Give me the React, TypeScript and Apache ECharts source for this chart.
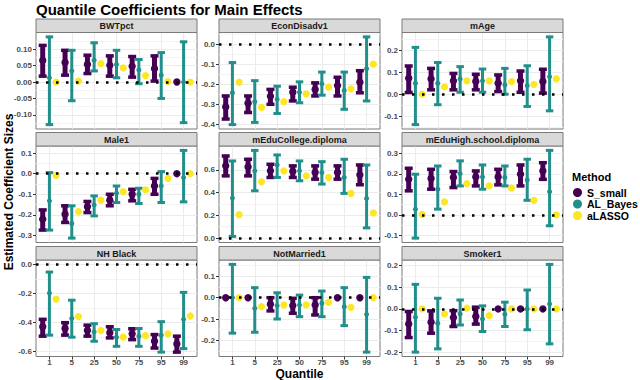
import React, { useEffect, useRef } from 'react';
import * as echarts from 'echarts';

const quantiles = ['1', '5', '25', '50', '75', '95', '99'];
const panelNames = [
  'BWTpct', 'EconDisadv1', 'mAge',
  'Male1', 'mEduCollege.diploma', 'mEduHigh.school.diploma',
  'NH Black', 'NotMarried1', 'Smoker1',
];
const yTickValues: number[][] = [
  [-0.1, -0.05, 0.0, 0.05, 0.1],
  [-0.4, -0.3, -0.2, -0.1, 0.0],
  [-0.1, 0.0, 0.1, 0.2],
  [-0.3, -0.2, -0.1, 0.0, 0.1],
  [0.0, 0.2, 0.4, 0.6],
  [-0.1, 0.0, 0.1, 0.2, 0.3],
  [-0.6, -0.4, -0.2, 0.0],
  [-0.2, -0.1, 0.0, 0.1],
  [-0.2, -0.1, 0.0, 0.1, 0.2],
];
const yTickDecimals = [2, 1, 1, 1, 1, 1, 1, 1, 1];
const methods = ['S_small', 'AL_Bayes', 'aLASSO'];
const methodColors = ['#440154', '#21908C', '#FDE725'];

// S_small
const sSmallEst: number[][] = [
  [0.066, 0.060, 0.054, 0.051, 0.048, 0.041, 0.0],
  [-0.314, -0.296, -0.261, -0.240, -0.226, -0.207, -0.190],
  [0.073, 0.070, 0.061, 0.058, 0.050, 0.061, 0.058],
  [-0.221, -0.197, -0.161, -0.129, -0.100, -0.060, 0.0],
  [0.635, 0.626, 0.591, 0.585, 0.576, 0.576, 0.556],
  [0.173, 0.177, 0.182, 0.185, 0.185, 0.198, 0.214],
  [-0.430, -0.442, -0.456, -0.472, -0.479, -0.530, -0.549],
  [0.0, 0.0, -0.031, -0.037, -0.034, 0.0, 0.0],
  [-0.069, -0.061, -0.040, -0.035, 0.0, 0.0, 0.0],
];
const sSmallLow: (number | null)[][] = [
  [0.018, 0.021, 0.026, 0.018, 0.015, 0.003, null],
  [-0.375, -0.342, -0.301, -0.284, -0.259, -0.259, -0.243],
  [0.008, 0.020, 0.020, 0.020, 0.012, 0.009, 0.005],
  [-0.274, -0.237, -0.189, -0.156, -0.132, -0.100, null],
  [0.547, 0.547, 0.533, 0.533, 0.518, 0.518, 0.469],
  [0.117, 0.125, 0.133, 0.141, 0.146, 0.141, 0.173],
  [-0.495, -0.488, -0.495, -0.507, -0.519, -0.577, -0.605],
  [null, null, -0.062, -0.073, -0.081, null, null],
  [-0.132, -0.112, -0.081, -0.070, null, null, null],
];
const sSmallHigh: (number | null)[][] = [
  [0.112, 0.097, 0.082, 0.080, 0.078, 0.080, null],
  [-0.259, -0.259, -0.226, -0.215, -0.193, -0.165, -0.132],
  [0.129, 0.118, 0.095, 0.091, 0.088, 0.106, 0.114],
  [-0.176, -0.156, -0.135, -0.100, -0.076, -0.023, null],
  [0.722, 0.693, 0.649, 0.635, 0.635, 0.635, 0.643],
  [0.227, 0.222, 0.211, 0.214, 0.222, 0.243, 0.254],
  [-0.379, -0.402, -0.419, -0.430, -0.444, -0.484, -0.495],
  [null, null, 0.0, -0.003, 0.0, null, null],
  [-0.012, -0.009, -0.008, 0.008, null, null, null],
];

// AL_Bayes
const alBayesEst: number[][] = [
  [0.013, 0.034, 0.067, 0.054, 0.037, 0.021, 0.0],
  [-0.243, -0.288, -0.276, -0.240, -0.198, -0.231, -0.122],
  [0.050, 0.050, 0.070, 0.061, 0.042, 0.039, 0.080],
  [-0.132, -0.242, -0.152, -0.095, -0.100, -0.060, -0.019],
  [0.352, 0.591, 0.643, 0.591, 0.576, 0.533, 0.349],
  [0.028, 0.125, 0.201, 0.185, 0.182, 0.170, 0.113],
  [-0.198, -0.372, -0.465, -0.502, -0.495, -0.488, -0.379],
  [0.0, -0.050, -0.037, -0.034, -0.026, -0.042, -0.078],
  [-0.038, -0.066, -0.023, -0.046, -0.025, 0.0, 0.023],
];
const alBayesLow: number[][] = [
  [-0.130, -0.057, 0.034, 0.013, -0.005, -0.050, -0.124],
  [-0.403, -0.392, -0.347, -0.293, -0.255, -0.326, -0.284],
  [-0.139, -0.048, 0.009, 0.009, 0.0, -0.056, -0.076],
  [-0.274, -0.313, -0.205, -0.140, -0.145, -0.140, -0.137],
  [0.015, 0.416, 0.533, 0.504, 0.475, 0.393, 0.090],
  [-0.113, 0.028, 0.141, 0.125, 0.141, 0.071, -0.053],
  [-0.488, -0.502, -0.530, -0.565, -0.565, -0.605, -0.581],
  [-0.166, -0.162, -0.100, -0.089, -0.089, -0.131, -0.255],
  [-0.199, -0.184, -0.074, -0.104, -0.081, -0.096, -0.161],
];
const alBayesHigh: number[][] = [
  [0.138, 0.097, 0.120, 0.097, 0.069, 0.090, 0.123],
  [-0.091, -0.182, -0.210, -0.188, -0.139, -0.139, 0.038],
  [0.214, 0.145, 0.126, 0.115, 0.118, 0.130, 0.262],
  [0.005, -0.156, -0.108, -0.060, -0.071, 0.010, 0.113],
  [0.678, 0.771, 0.731, 0.678, 0.672, 0.693, 0.643],
  [0.198, 0.238, 0.263, 0.243, 0.238, 0.271, 0.314],
  [-0.053, -0.247, -0.409, -0.449, -0.442, -0.395, -0.193],
  [0.156, 0.047, 0.023, 0.012, 0.031, 0.047, 0.095],
  [0.113, 0.049, 0.041, 0.014, 0.031, 0.087, 0.205],
];

// aLASSO
const aLassoEst: number[][] = [
  [0.0, 0.003, 0.056, 0.043, 0.020, 0.001, 0.0],
  [-0.190, -0.317, -0.288, -0.248, -0.215, -0.223, -0.099],
  [0.0, 0.033, 0.061, 0.061, 0.058, 0.045, 0.070],
  [-0.008, -0.184, -0.129, -0.087, -0.079, -0.023, 0.0],
  [0.207, 0.495, 0.591, 0.547, 0.533, 0.393, 0.221],
  [0.003, 0.063, 0.152, 0.141, 0.130, 0.071, 0.0],
  [-0.240, -0.360, -0.456, -0.502, -0.491, -0.479, -0.356],
  [0.0, -0.042, -0.034, -0.034, -0.022, -0.045, 0.0],
  [0.0, -0.023, 0.003, -0.031, 0.0, 0.0, 0.0],
];

const FONT = '"Liberation Sans", Arial, Helvetica, sans-serif';
const COL_LEFT = [36, 219, 402];
const ROW_TOP = [32.5, 146, 260];
const PW = 161;
const PH = 96.5;
const STRIP_H = 13.5;
const DODGE = 0.3;

function yRange(p: number): [number, number] {
  const vals: number[] = [0];
  [sSmallEst, sSmallLow, sSmallHigh, alBayesEst, alBayesLow, alBayesHigh, aLassoEst].forEach((arr) => {
    arr[p].forEach((v) => { if (v != null) vals.push(v); });
  });
  const lo = Math.min(...vals);
  const hi = Math.max(...vals);
  const pad = (hi - lo) * 0.05;
  return [lo - pad, hi + pad];
}

function minorTicks(majors: number[], min: number, max: number): number[] {
  const step = majors[1] - majors[0];
  const cands = majors.map((m) => m - step / 2).concat([majors[majors.length - 1] + step / 2]);
  return cands.map((v) => Number(v.toFixed(6))).filter((v) => v > min && v < max);
}

function errorBarRenderer(dodge: number, barW: number, capW: number, capT: number, r: number, color: string) {
  return (params: any, api: any) => {
    const i = api.value(0);
    const lo = api.value(1);
    const hi = api.value(2);
    const est = api.value(3);
    const has = api.value(4);
    const pEst = api.coord([i + dodge, est]);
    const children: any[] = [];
    if (has) {
      const pLo = api.coord([i + dodge, lo]);
      const pHi = api.coord([i + dodge, hi]);
      const cx = pEst[0];
      children.push({ type: 'line', shape: { x1: cx, y1: pHi[1], x2: cx, y2: pLo[1] }, style: { stroke: color, lineWidth: barW } });
      children.push({ type: 'line', shape: { x1: cx - capW / 2, y1: pHi[1], x2: cx + capW / 2, y2: pHi[1] }, style: { stroke: color, lineWidth: capT } });
      children.push({ type: 'line', shape: { x1: cx - capW / 2, y1: pLo[1], x2: cx + capW / 2, y2: pLo[1] }, style: { stroke: color, lineWidth: capT } });
    }
    children.push({ type: 'circle', shape: { cx: pEst[0], cy: pEst[1], r }, style: { fill: color } });
    return { type: 'group', children };
  };
}

function pointRenderer(dodge: number, r: number, color: string) {
  return (params: any, api: any) => {
    const p = api.coord([api.value(0) + dodge, api.value(1)]);
    return { type: 'circle', shape: { cx: p[0], cy: p[1], r }, style: { fill: color } };
  };
}

export default function App() {
  const ref = useRef<HTMLDivElement>(null);
  useEffect(() => {
    document.body.style.margin = '0';
    const chart = echarts.init(ref.current!, null, { renderer: 'svg' });
    const grids: any[] = [];
    const xAxes: any[] = [];
    const yAxes: any[] = [];
    const series: any[] = [];
    const graphics: any[] = [];
    const xIdx = quantiles.map((_, i) => i);

    panelNames.forEach((name, p) => {
      const row = Math.floor(p / 3);
      const col = p % 3;
      const left = COL_LEFT[col];
      const top = ROW_TOP[row];
      const [ymin, ymax] = yRange(p);
      const majors = yTickValues[p];
      const minors = minorTicks(majors, ymin, ymax);
      const bottomRow = row === 2;

      grids.push({ left, top, width: PW, height: PH, show: true, borderColor: '#7a7a7a', borderWidth: 1, backgroundColor: '#fff', containLabel: false });
      xAxes.push({
        type: 'value', gridIndex: p, min: -0.6, max: 6.6, position: 'bottom',
        axisLine: { show: false, onZero: false },
        axisTick: { show: bottomRow, customValues: xIdx, length: 3, lineStyle: { color: '#333', width: 1 } },
        axisLabel: {
          show: bottomRow, customValues: xIdx, margin: 2,
          formatter: (v: number) => quantiles[Math.round(v)] ?? '',
          fontSize: 8, fontWeight: 'bold', color: '#4D4D4D', fontFamily: FONT,
        },
        splitLine: { show: true, lineStyle: { color: '#EBEBEB', width: 1 } },
      });
      yAxes.push({
        type: 'value', gridIndex: p, min: ymin, max: ymax, position: 'left',
        axisLine: { show: false, onZero: false },
        axisTick: { show: true, customValues: majors, length: 3, lineStyle: { color: '#333', width: 1 } },
        axisLabel: {
          customValues: majors, margin: 4,
          formatter: (v: number) => v.toFixed(yTickDecimals[p]),
          fontSize: 8, fontWeight: 'bold', color: '#4D4D4D', fontFamily: FONT,
        },
        splitLine: { show: true, lineStyle: { color: '#EBEBEB', width: 1 } },
      });
      yAxes.push({
        type: 'value', gridIndex: p, min: ymin, max: ymax, position: 'left',
        axisLine: { show: false, onZero: false },
        axisTick: { show: false, customValues: minors },
        axisLabel: { show: false, customValues: minors },
        splitLine: { show: true, lineStyle: { color: '#F4F4F4', width: 1 } },
      });

      const sData = quantiles.map((_, i) => {
        const lo = sSmallLow[p][i];
        const hi = sSmallHigh[p][i];
        const est = sSmallEst[p][i];
        return [i, lo ?? est, hi ?? est, est, lo == null ? 0 : 1];
      });
      const bData = quantiles.map((_, i) => [i, alBayesLow[p][i], alBayesHigh[p][i], alBayesEst[p][i], 1]);
      const lData = quantiles.map((_, i) => [i, aLassoEst[p][i]]);

      series.push({
        type: 'custom', name: methods[0], xAxisIndex: p, yAxisIndex: 2 * p,
        itemStyle: { color: methodColors[0] },
        renderItem: errorBarRenderer(-DODGE, 5, 8, 3.5, 3.7, methodColors[0]),
        data: sData, silent: true,
      });
      series.push({
        type: 'custom', name: methods[1], xAxisIndex: p, yAxisIndex: 2 * p,
        itemStyle: { color: methodColors[1] },
        renderItem: errorBarRenderer(0, 3, 7.5, 3, 2.5, methodColors[1]),
        data: bData, silent: true,
      });
      series.push({
        type: 'custom', name: methods[2], xAxisIndex: p, yAxisIndex: 2 * p,
        itemStyle: { color: methodColors[2] },
        renderItem: pointRenderer(DODGE, 3.6, methodColors[2]),
        data: lData, silent: true,
        markLine: {
          silent: true, symbol: ['none', 'none'], label: { show: false },
          lineStyle: { type: [2.5, 7.5], width: 2.5, color: '#000', cap: 'butt' },
          emphasis: { disabled: true },
          data: [{ yAxis: 0 }],
        },
      });

      graphics.push({
        type: 'rect', shape: { x: left, y: top - STRIP_H, width: PW, height: STRIP_H },
        style: { fill: '#D9D9D9', stroke: '#7a7a7a', lineWidth: 1 }, z: 10,
      });
      graphics.push({
        type: 'text', x: left + PW / 2, y: top - STRIP_H / 2 + 0.5, z: 11,
        style: { text: name, align: 'center', verticalAlign: 'middle', textAlign: 'center', textVerticalAlign: 'middle', font: `bold 9px ${FONT}`, fill: '#1A1A1A' },
      });
    });

    graphics.push({
      type: 'text', x: 36, y: 9, z: 11,
      style: { text: 'Quantile Coefficients for Main Effects', align: 'left', verticalAlign: 'middle', textVerticalAlign: 'middle', font: `bold 15px ${FONT}`, fill: '#000' },
    });
    graphics.push({
      type: 'text', x: 299.5, y: 373.5, z: 11,
      style: { text: 'Quantile', align: 'center', verticalAlign: 'middle', textAlign: 'center', textVerticalAlign: 'middle', font: `bold 12px ${FONT}`, fill: '#000' },
    });
    graphics.push({
      type: 'text', x: 9, y: 192, rotation: Math.PI / 2, z: 11,
      style: { text: 'Estimated Coefficient Sizes', align: 'center', verticalAlign: 'middle', textAlign: 'center', textVerticalAlign: 'middle', font: `bold 12px ${FONT}`, fill: '#000' },
    });
    graphics.push({
      type: 'text', x: 572, y: 177, z: 11,
      style: { text: 'Method', align: 'left', verticalAlign: 'middle', textVerticalAlign: 'middle', font: `bold 11px ${FONT}`, fill: '#000' },
    });

    chart.setOption({
      animation: false,
      backgroundColor: '#fff',
      textStyle: { fontFamily: FONT },
      grid: grids,
      xAxis: xAxes,
      yAxis: yAxes,
      series,
      legend: {
        orient: 'vertical', left: 573, top: 187, padding: 0,
        itemWidth: 9, itemHeight: 9, itemGap: 0.5, selectedMode: false,
        data: methods.map((m) => ({ name: m, icon: 'circle' })),
        textStyle: { fontSize: 10.5, fontWeight: 'bold', color: '#000', fontFamily: FONT, lineHeight: 10 },
      },
      graphic: graphics,
    });
    return () => chart.dispose();
  }, []);
  return <div ref={ref} style={{ position: 'absolute', left: 0, top: 0, width: 640, height: 380 }} />;
}
